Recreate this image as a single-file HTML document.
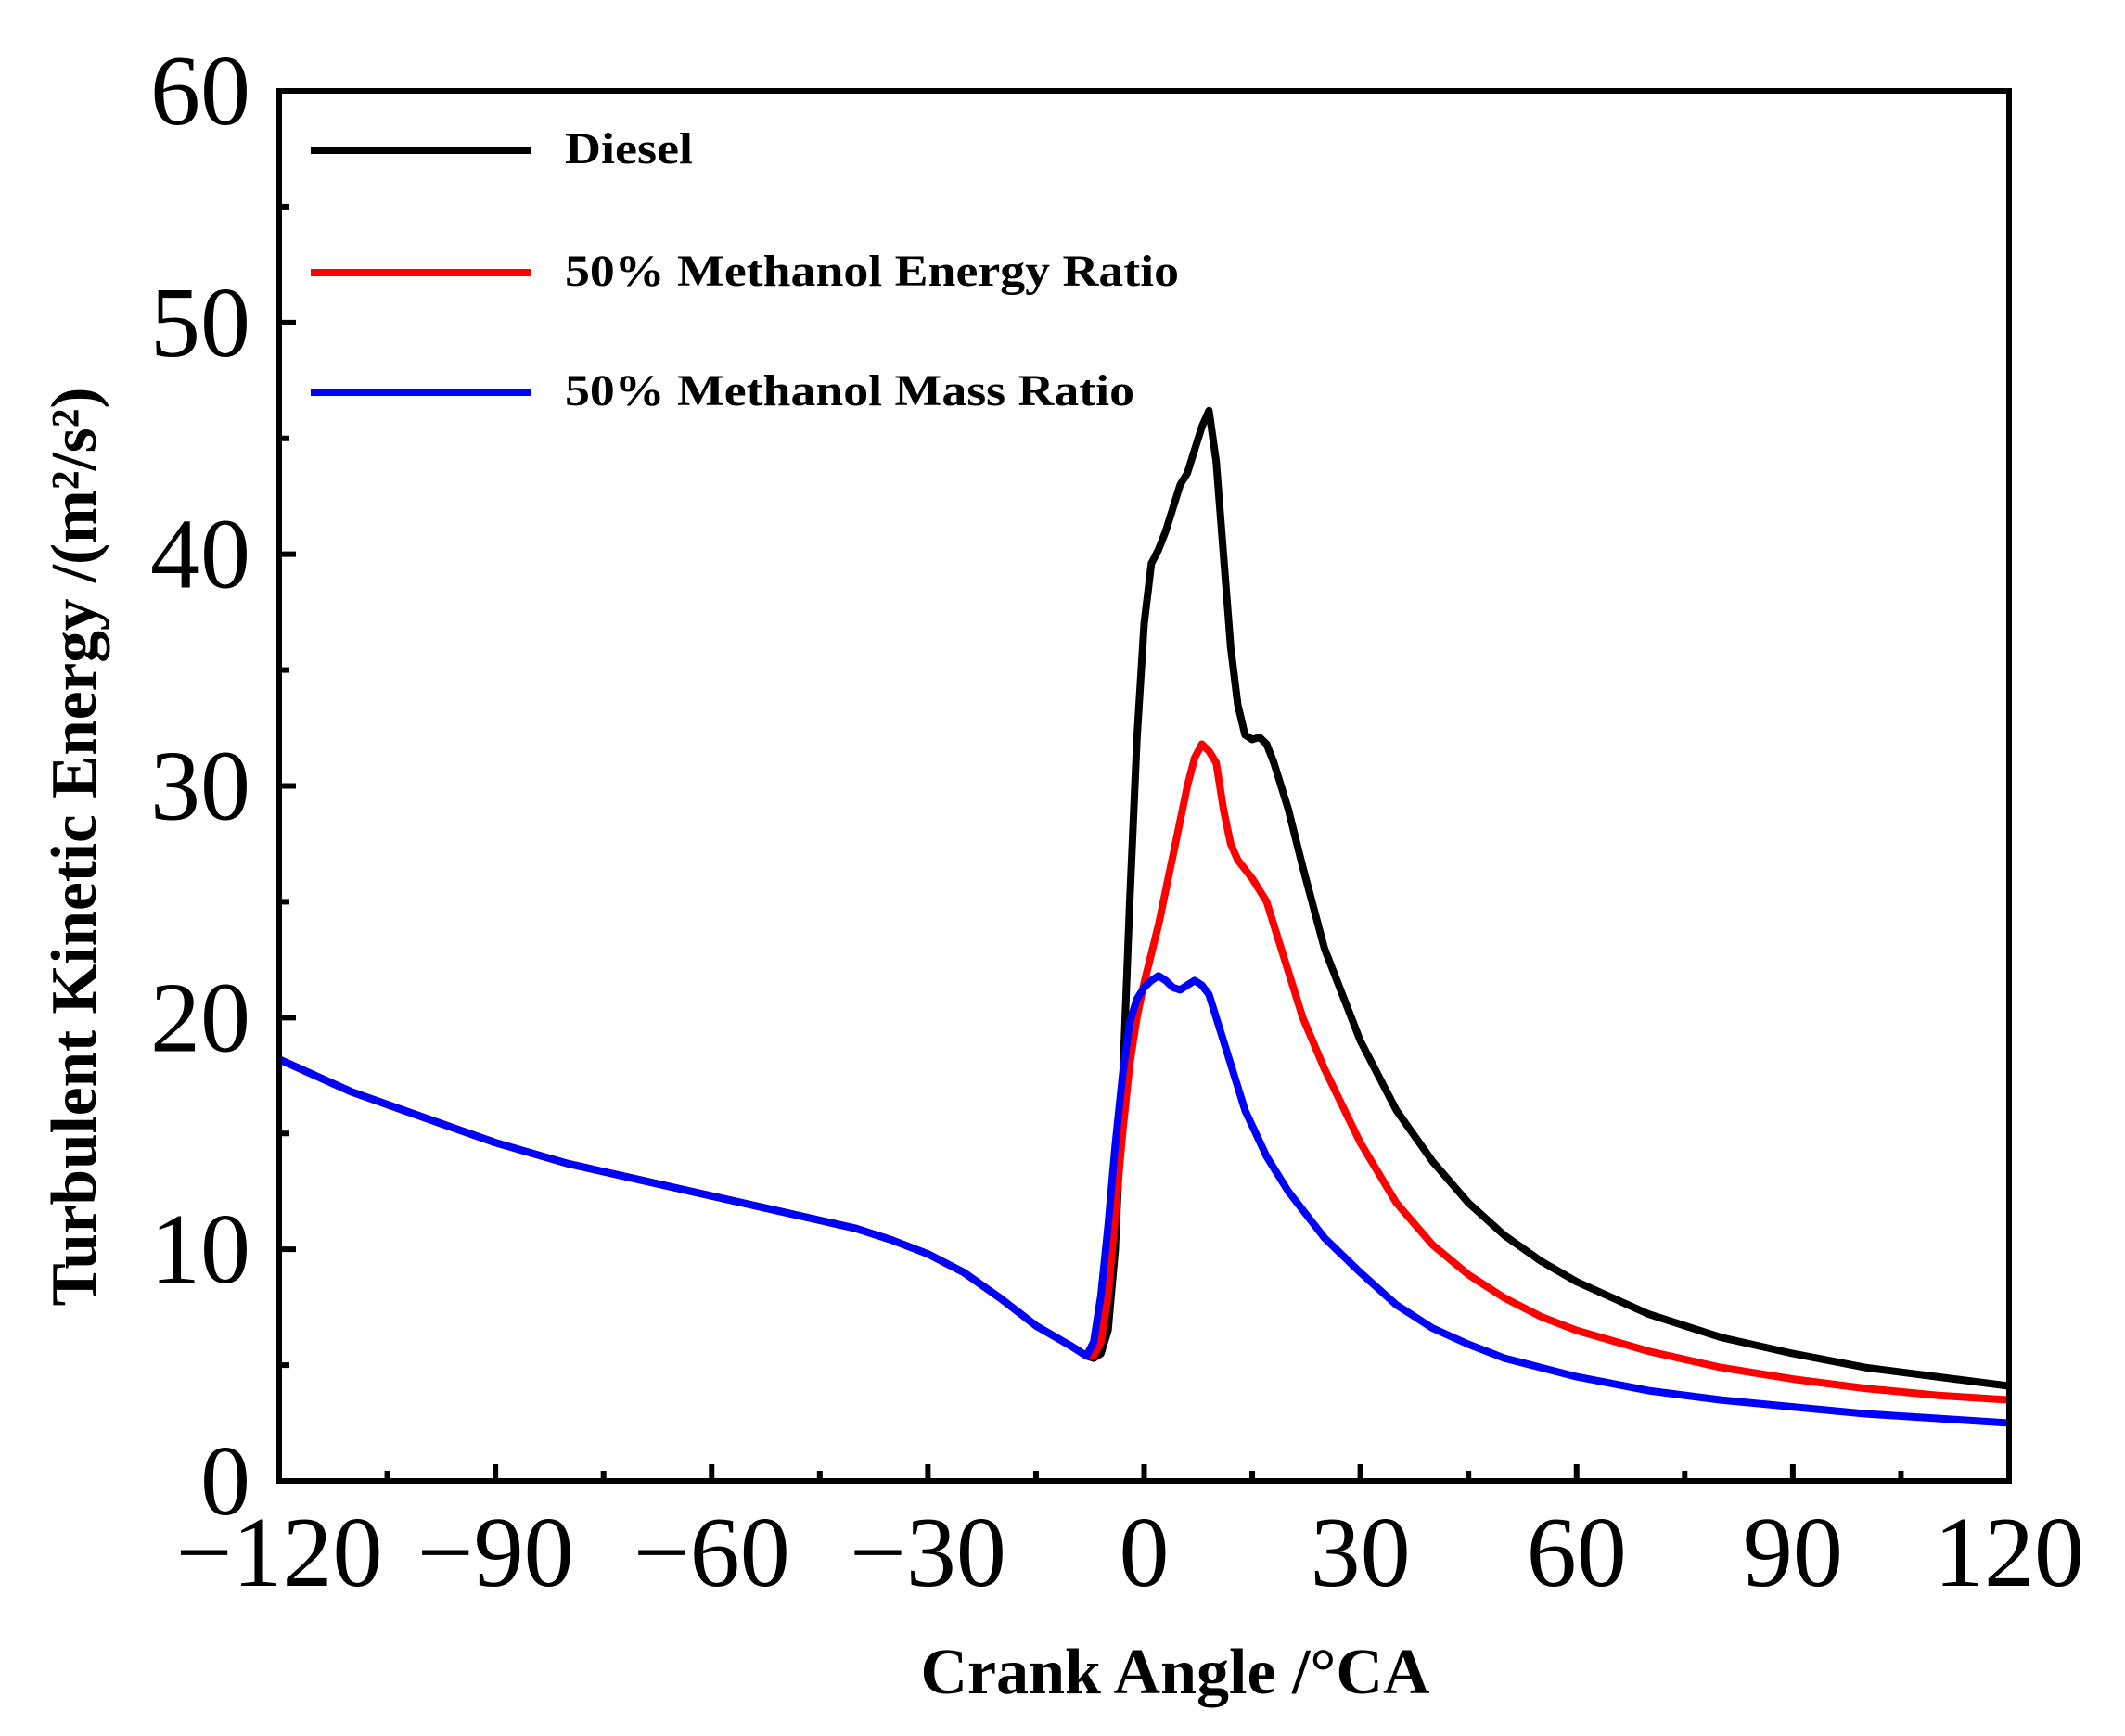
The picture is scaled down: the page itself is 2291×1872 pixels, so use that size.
<!DOCTYPE html>
<html><head><meta charset="utf-8"><style>
html,body{margin:0;padding:0;background:#fff;}
svg{display:block;}
text{font-family:"Liberation Serif",serif;}
</style></head><body>
<svg id="chart" width="2291" height="1872" viewBox="0 0 2291 1872" xmlns="http://www.w3.org/2000/svg">
<g id="marks"></g>
<g id="axes"></g>
<g id="legend">
  <line x1="335" y1="162" x2="573" y2="162" stroke="#000" stroke-width="8"/>
  <text x="609" y="176" font-size="48" font-weight="bold" textLength="138" lengthAdjust="spacingAndGlyphs">Diesel</text>
  <line x1="335" y1="294" x2="573" y2="294" stroke="#f00" stroke-width="8"/>
  <text x="609" y="308" font-size="48" font-weight="bold" textLength="662" lengthAdjust="spacingAndGlyphs">50% Methanol Energy Ratio</text>
  <line x1="335" y1="423" x2="573" y2="423" stroke="#00f" stroke-width="8"/>
  <text x="609" y="437" font-size="48" font-weight="bold" textLength="614" lengthAdjust="spacingAndGlyphs">50% Methanol Mass Ratio</text>
</g>
<text x="1267" y="1826" font-size="70" font-weight="bold" text-anchor="middle" textLength="549" lengthAdjust="spacingAndGlyphs">Crank Angle /°CA</text>
<text transform="translate(103,913) rotate(-90)" font-size="70" font-weight="bold" text-anchor="middle" textLength="991" lengthAdjust="spacingAndGlyphs">Turbulent Kinetic Energy /(m²/s²)</text>
</svg>
<script>
const common = [[-120,18.2],[-110,16.8],[-100,15.7],[-90,14.6],[-80,13.7],[-70,13.0],[-60,12.3],[-50,11.6],[-40,10.9],[-35,10.4],[-30,9.8],[-25,9.0],[-20,7.9],[-15,6.7],[-10,5.8],[-8,5.4]];
const dieselTail = [[-7,5.3],[-6,5.5],[-5,6.5],[-4,10],[-3,17],[-2,25],[-1,32],[0,37],[1,39.6],[2,40.2],[3,41],[4,42],[5,43],[6,43.5],[7,44.5],[8,45.5],[9,46.2],[10,44],[11,40],[12,36],[13,33.5],[14,32.2],[15,32],[16,32.1],[17,31.8],[18,31],[20,29],[22,26.5],[25,23],[30,19],[35,16],[40,13.8],[45,12.0],[50,10.6],[55,9.5],[60,8.6],[70,7.2],[80,6.2],[90,5.5],[100,4.9],[110,4.5],[120,4.1]];
const energyTail = [[-7,5.4],[-6,6],[-5,8],[-4,11.5],[-3,15],[-2,18],[-1,20],[0,21.5],[2,24],[4,27],[6,30],[7,31.2],[8,31.8],[9,31.5],[10,31],[11,29],[12,27.5],[13,26.8],[15,26],[17,25],[19,23],[22,20],[25,17.8],[30,14.6],[35,12],[40,10.2],[45,8.9],[50,7.9],[55,7.1],[60,6.5],[70,5.6],[80,4.9],[90,4.4],[100,4.0],[110,3.7],[120,3.5]];
const massTail = [[-7,6],[-6,8],[-5,11],[-4,14.5],[-3,17.5],[-2,19.8],[-1,20.8],[0,21.3],[1,21.6],[2,21.8],[3,21.6],[4,21.3],[5,21.2],[6,21.4],[7,21.6],[8,21.4],[9,21],[10,20],[12,18],[14,16],[17,14],[20,12.5],[25,10.5],[30,9],[35,7.6],[40,6.6],[45,5.9],[50,5.3],[55,4.9],[60,4.5],[70,3.9],[80,3.5],[90,3.2],[100,2.9],[110,2.7],[120,2.5]];
const xTicks = [-120,-90,-60,-30,0,30,60,90,120];
const xTickLabels = ["\u2212120","\u221290","\u221260","\u221230","0","30","60","90","120"];
const yTicks = [0,10,20,30,40,50,60];
const yTickLabels = ["0","10","20","30","40","50","60"];

const L=301,R=2166,T=98,B=1597;
const xS=v=>L+(v+120)/240*(R-L);
const yS=v=>B-v/60*(B-T);
const NS="http://www.w3.org/2000/svg";
const marks=document.getElementById('marks'), axes=document.getElementById('axes');
function mk(tag,attrs,parent){const e=document.createElementNS(NS,tag);for(const k in attrs)e.setAttribute(k,attrs[k]);parent.appendChild(e);return e;}

const series=[["diesel-line","#000",dieselTail],["energy-ratio-line","#f00",energyTail],["mass-ratio-line","#00f",massTail]];
series.forEach(s=>{
  const pts=common.concat(s[2]);
  const d=pts.map((p,i)=>(i?'L':'M')+xS(p[0]).toFixed(1)+','+yS(p[1]).toFixed(1)).join('');
  const p=mk('path',{d:d,fill:'none',stroke:s[1],'stroke-width':8,'stroke-linejoin':'round'},marks);
  
  
});

const fr=mk('rect',{x:L,y:T,width:R-L,height:B-T,fill:'none',stroke:'#000','stroke-width':6},axes);


for(let v=-120;v<=120;v+=15){
  const major=(v%30===0);
  const t=mk('line',{x1:xS(v),x2:xS(v),y1:B,y2:B-(major?18:11),stroke:'#000','stroke-width':6},axes);
  
  
}
for(let v=0;v<=60;v+=5){
  const major=(v%10===0);
  const t=mk('line',{x1:L,x2:L+(major?18:11),y1:yS(v),y2:yS(v),stroke:'#000','stroke-width':6},axes);
  
  
}
xTicks.forEach((v,i)=>{
  const t=mk('text',{x:xS(v),y:1710,'font-size':108,'text-anchor':'middle'},axes);
  t.textContent=xTickLabels[i];
  
  
});
yTicks.forEach((v,i)=>{
  const t=mk('text',{x:270,y:yS(v)+36,'font-size':108,'text-anchor':'end'},axes);
  t.textContent=yTickLabels[i];
  
  
});
</script>
</body></html>
